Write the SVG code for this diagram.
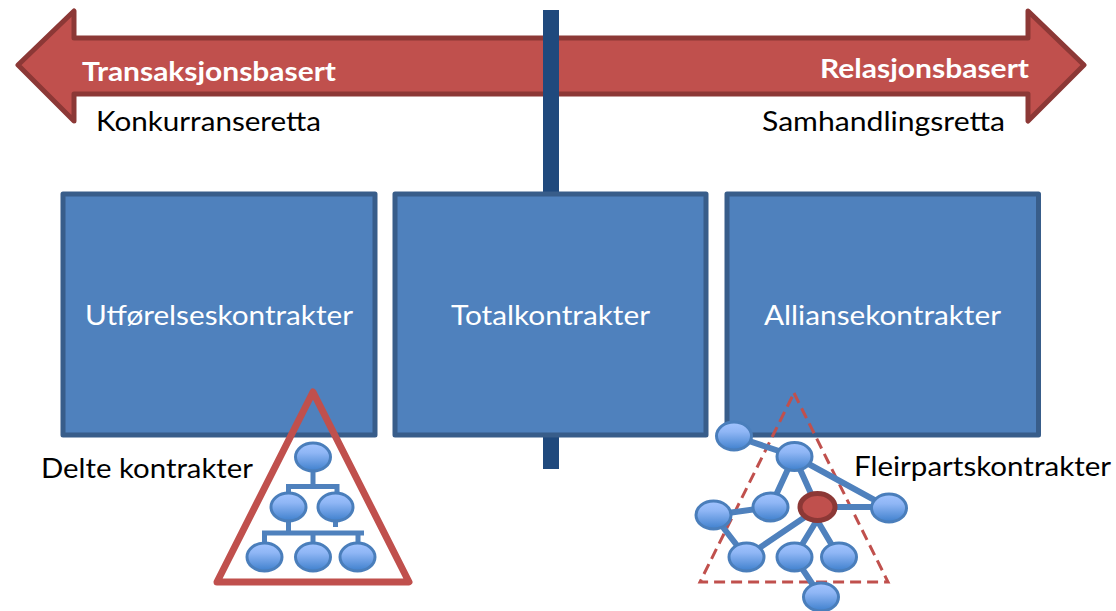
<svg xmlns="http://www.w3.org/2000/svg" width="1116" height="611" viewBox="0 0 1116 611">
<style>
text{font-family:Lato,"Liberation Sans",sans-serif;font-size:27px;fill:#000}
.w{fill:#fff}
.b{font-weight:700}
.box{fill:#4f81bd;stroke:#385d8a;stroke-width:5;stroke-linejoin:round}
.n{fill:url(#g);stroke:#4a7ebb;stroke-width:3}
.c{fill:none;stroke:#4f81bd;stroke-width:5}
.net{fill:none;stroke:#4f81bd;stroke-width:6}
</style>
<defs>
<linearGradient id="g" x1="0" y1="0" x2="0" y2="1"><stop offset="0" stop-color="#a3c4ff"/><stop offset=".35" stop-color="#8fb6f5"/><stop offset="1" stop-color="#3f80cd"/></linearGradient>
</defs>
<rect width="1116" height="611" fill="#fff"/>
<g id="arrow">
<path d="M18 65 74 11V38H1028V11L1084 65 1028 121V94H74V121Z" fill="#c0504d" stroke="#8c3836" stroke-width="5" stroke-linejoin="round"/>
</g>
<g id="axis"><rect x="543" y="10" width="16" height="459" fill="#1f497d"/></g>
<g id="label-transaksjonsbasert"><text class="w b" x="82" y="81" textLength="254" lengthAdjust="spacingAndGlyphs">Transaksjonsbasert</text></g>
<g id="label-relasjonsbasert"><text class="w b" x="820" y="78" textLength="209" lengthAdjust="spacingAndGlyphs">Relasjonsbasert</text></g>
<g id="label-konkurranseretta"><text x="96" y="131" textLength="225" lengthAdjust="spacingAndGlyphs">Konkurranseretta</text></g>
<g id="label-samhandlingsretta"><text x="762" y="131" textLength="243" lengthAdjust="spacingAndGlyphs">Samhandlingsretta</text></g>
<g id="box-utforelse"><rect class="box" x="63" y="194" width="312" height="241"/><text class="w" x="85" y="325" textLength="268" lengthAdjust="spacingAndGlyphs">Utførelseskontrakter</text></g>
<g id="box-total"><rect class="box" x="395" y="194" width="311" height="241"/><text class="w" x="451" y="325" textLength="199" lengthAdjust="spacingAndGlyphs">Totalkontrakter</text></g>
<g id="box-allianse"><rect class="box" x="727" y="194" width="311.500" height="241"/><text class="w" x="764" y="325" textLength="237" lengthAdjust="spacingAndGlyphs">Alliansekontrakter</text></g>
<g id="label-delte"><text x="41" y="478" textLength="212" lengthAdjust="spacingAndGlyphs">Delte kontrakter</text></g>
<g id="label-fleirparts"><text x="854" y="476" textLength="257" lengthAdjust="spacingAndGlyphs">Fleirpartskontrakter</text></g>
<g id="triangle-delte"><path d="M313 392 409 582H217Z" fill="none" stroke="#c0504d" stroke-width="7" stroke-linejoin="round"/></g>
<g id="triangle-fleirparts"><path d="M794 393 888 582H700Z" fill="none" stroke="#c0504d" stroke-width="3" stroke-dasharray="11 6"/></g>
<g id="connectors">
<path class="c" d="M313 470V486.500M288.500 494V486.500H337V494M335.500 520V527M288.500 520V533M264.500 545V533H364M313 533V545M358 533V545"/>
<path class="net" d="M734 436 794 456M794 456 770.500 507M794 456 817 507M794 456 889 508M713.500 515 770.500 507M713.500 515 746 557M746 557 805 517M817 520 794.500 557M817 520 839 557M817 507H889M794.500 557 821 597"/>
</g>
<g id="node-t1"><ellipse class="n" cx="313" cy="457" rx="17.500" ry="14"/></g>
<g id="node-t2"><ellipse class="n" cx="288.500" cy="507" rx="17.500" ry="14"/></g>
<g id="node-t3"><ellipse class="n" cx="335.500" cy="507" rx="17.500" ry="14"/></g>
<g id="node-t4"><ellipse class="n" cx="264.500" cy="557" rx="17.500" ry="14"/></g>
<g id="node-t5"><ellipse class="n" cx="313" cy="557" rx="17.500" ry="14"/></g>
<g id="node-t6"><ellipse class="n" cx="357.500" cy="557" rx="17.500" ry="14"/></g>
<g id="node-a"><ellipse class="n" cx="734" cy="436" rx="17.500" ry="14"/></g>
<g id="node-b"><ellipse class="n" cx="794.500" cy="456.500" rx="17.500" ry="14"/></g>
<g id="node-c"><ellipse class="n" cx="713.500" cy="515" rx="17.500" ry="14"/></g>
<g id="node-d"><ellipse class="n" cx="770.500" cy="507" rx="17.500" ry="14"/></g>
<g id="node-e"><ellipse cx="817.500" cy="507" rx="17.500" ry="13.500" fill="#c0504d" stroke="#8c3836" stroke-width="5"/></g>
<g id="node-f"><ellipse class="n" cx="889" cy="508" rx="17.500" ry="14"/></g>
<g id="node-g"><ellipse class="n" cx="746.500" cy="557" rx="17.500" ry="14"/></g>
<g id="node-h"><ellipse class="n" cx="794.500" cy="557" rx="17.500" ry="14"/></g>
<g id="node-i"><ellipse class="n" cx="839" cy="557" rx="17.500" ry="14"/></g>
<g id="node-j"><ellipse class="n" cx="821" cy="597" rx="17.500" ry="14"/></g>
</svg>
